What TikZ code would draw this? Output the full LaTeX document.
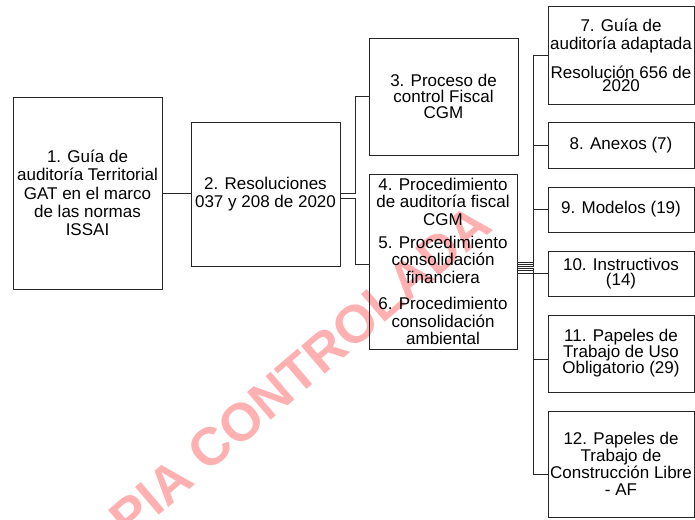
\documentclass[tikz,border=0pt]{standalone}
\usepackage{fontspec}
\setmainfont{Liberation Sans}
\definecolor{wmpink}{RGB}{255,176,176}
\definecolor{ink}{RGB}{38,38,38}
\begin{document}
\begin{tikzpicture}[x=1pt,y=-1pt,
  fs/.style={font=\fontsize{17}{#1}\selectfont},
  box/.style={draw=ink, line width=0.8pt, inner sep=0pt, outer sep=0pt,
              align=center, text=black},
  wire/.style={draw=ink, line width=0.8pt},
  wm/.style={text=wmpink, rotate=40.5, font=\fontsize{53}{53}\selectfont\bfseries}]
\useasboundingbox (0,0) rectangle (695,519);

% watermark behind everything
\node[wm] (mark) at (270,397) {COPIA CONTROLADA};

% first level
\node[box, fs=18.3, minimum width=149pt, minimum height=192pt] (b1) at (87.5,193)
  {1. Guía de\\auditoría Territorial\\GAT en el marco\\de las normas\\ISSAI};
\node[box, fs=18, minimum width=149pt, minimum height=144pt] (b2) at (265.5,194)
  {2. Resoluciones\\037 y 208 de 2020};

% second level
\node[box, fs=16, minimum width=149pt, minimum height=117pt] (b3) at (443.5,96.5)
  {3. Proceso de\\control Fiscal\\CGM};
\node[box, fs=17.5, minimum width=148pt, minimum height=175pt] (b46) at (443,261.5)
  {4. Procedimiento\\de auditoría fiscal\\CGM\\[5.5pt]5. Procedimiento\\consolidación\\financiera\\[9pt]6. Procedimiento\\consolidación\\ambiental};

% third level
\node[box, fs=18.5, minimum width=146pt, minimum height=98pt] (b7) at (621,55)
  {7. Guía de\\auditoría adaptada\\[10pt]Resolución 656 de\\[-5.5pt]2020};
\node[box, fs=18, minimum width=146pt, minimum height=46pt] (b8) at (621,145)
  {8. Anexos (7)};
\node[box, fs=18, minimum width=146pt, minimum height=45pt] (b9) at (621,209.5)
  {9. Modelos (19)};
\node[box, fs=15, minimum width=146pt, minimum height=45pt] (b10) at (621,273.5)
  {10. Instructivos\\(14)};
\node[box, fs=16, minimum width=146pt, minimum height=77pt] (b11) at (621,353.5)
  {11. Papeles de\\Trabajo de Uso\\Obligatorio (29)};
\node[box, fs=17, minimum width=146pt, minimum height=106pt] (b12) at (621,464)
  {12. Papeles de\\Trabajo de\\Construcción Libre\\- AF};

% connectors
\draw[wire] (b1.east) -- (b1.east -| b2.west);
\draw[wire] ([yshift=0.5pt]b2.east) -- ++(15,0) |- (b3.west);
\draw[wire] ([yshift=-4.5pt]b2.east) -- ++(15,0) |- ([yshift=-2.5pt]b46.west);

\draw[wire] ([yshift=-0.5pt]b46.east)  -- ++(16,0) |- (b7.west);
\draw[wire] ([yshift=-2.7pt]b46.east)  -- ++(16,0) |- (b8.west);
\draw[wire] ([yshift=-4.9pt]b46.east)  -- ++(16,0) |- (b9.west);
\draw[wire] ([yshift=-7.1pt]b46.east)  -- ++(16,0) |- (b10.west);
\draw[wire] ([yshift=-9.3pt]b46.east)  -- ++(16,0) |- ([yshift=-5.5pt]b11.west);
\draw[wire] ([yshift=-11.5pt]b46.east) -- ++(16,0) |- ([yshift=-10pt]b12.west);
\end{tikzpicture}
\end{document}
